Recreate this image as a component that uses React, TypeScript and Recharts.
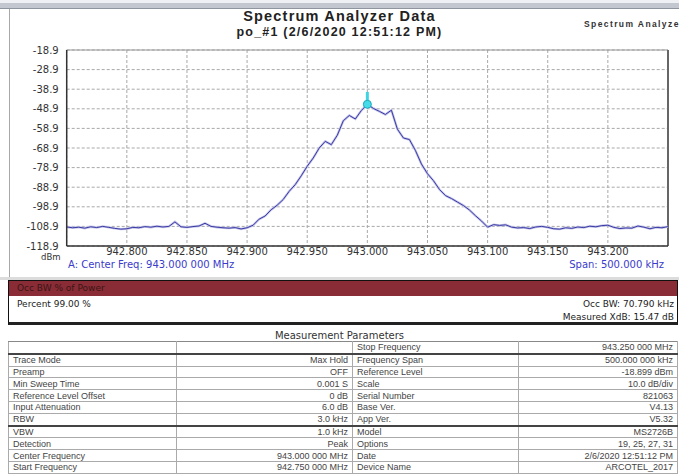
import { LineChart, Line, XAxis, YAxis, CartesianGrid, ReferenceLine, ReferenceDot } from 'recharts';

// sweep: 942.750 MHz .. 943.250 MHz, one point every 5 kHz
const sweepStart = 942.75;
const sweepStep = 0.005;
const traceDbm = [
  -109.2, -109.6, -109.3, -109.8, -109.1, -109.5, -108.9, -109.4, -109.9, -110.3,
  -110.1, -109.4, -109.6, -109.0, -109.3, -108.8, -109.2, -108.9, -106.6, -109.1,
  -109.4, -109.0, -108.7, -107.3, -108.9, -109.3, -109.6, -109.8, -109.5, -110.2,
  -109.6, -108.3, -105.2, -103.6, -100.4, -98.1, -95.2, -91.0, -87.6, -83.1,
  -78.2, -74.0, -68.9, -65.5, -67.2, -62.4, -55.0, -52.3, -54.1, -49.8,
  -46.6, -48.7, -50.2, -51.8, -49.6, -59.3, -63.8, -64.6, -70.2, -77.1,
  -82.0, -85.6, -90.1, -93.2, -94.7, -96.5, -98.3, -100.6, -103.5, -106.2,
  -109.3, -108.0, -108.4, -108.1, -109.3, -109.7, -109.5, -110.0, -109.2, -108.9,
  -109.4, -110.1, -110.3, -109.6, -109.9, -109.2, -109.5, -108.8, -109.1, -108.5,
  -108.3, -109.4, -110.0, -109.7, -109.8, -108.7, -109.3, -110.1, -109.4, -109.6,
  -109.0,
];

const yTicks = [-18.9, -28.9, -38.9, -48.9, -58.9, -68.9, -78.9, -88.9, -98.9, -108.9, -118.9];
const xTicks = [942.75, 942.8, 942.85, 942.9, 942.95, 943.0, 943.05, 943.1, 943.15, 943.2, 943.25];
const xLabels = ['', '942.800', '942.850', '942.900', '942.950', '943.000', '943.050', '943.100', '943.150', '943.200', ''];

const markerFreq = 943.0;
const markerDbm = -46.6;

const leftParams = [
  ['', ''],
  ['Trace Mode', 'Max Hold'],
  ['Preamp', 'OFF'],
  ['Min Sweep Time', '0.001 S'],
  ['Reference Level Offset', '0 dB'],
  ['Input Attenuation', '6.0 dB'],
  ['RBW', '3.0 kHz'],
  ['VBW', '1.0 kHz'],
  ['Detection', 'Peak'],
  ['Center Frequency', '943.000 000 MHz'],
  ['Start Frequency', '942.750 000 MHz'],
];
const rightParams = [
  ['Stop Frequency', '943.250 000 MHz'],
  ['Frequency Span', '500.000 000 kHz'],
  ['Reference Level', '-18.899 dBm'],
  ['Scale', '10.0 dB/div'],
  ['Serial Number', '821063'],
  ['Base Ver.', 'V4.13'],
  ['App Ver.', 'V5.32'],
  ['Model', 'MS2726B'],
  ['Options', '19, 25, 27, 31'],
  ['Date', '2/6/2020 12:51:12 PM'],
  ['Device Name', 'ARCOTEL_2017'],
];

const data = traceDbm.map((dbm, i) => ({ freq: sweepStart + i * sweepStep, dbm }));

const tickFont = { fontSize: 10, fill: '#333', fontFamily: 'DejaVu Sans' };
const abs = (s: any) => ({ position: 'absolute' as const, ...s });

export default function App() {
  const cell = { padding: '0 4px', height: 10.8, lineHeight: '10px', borderBottom: '1px solid #aaa', borderRight: '1px solid #aaa', whiteSpace: 'nowrap' as const };
  return (
    <div style={abs({ left: 0, top: 0, width: 679, height: 474, overflow: 'hidden', background: '#fff', fontFamily: '"Liberation Sans", Arial, sans-serif' })}>
      <div style={abs({ left: 0, top: 0, width: 679, height: 3, background: '#eef0f3' })} />
      <div style={abs({ left: 0, top: 3, width: 679, height: 5, background: '#c3c8d0', borderBottom: '1px solid #8f959e' })} />
      <div style={abs({ left: 9, top: 9, width: 1, height: 268, background: '#a8a8a8' })} />
      <div style={abs({ left: 0, top: 277, width: 679, height: 3, background: '#dcdcdc' })} />

      <div style={abs({ left: 0, top: 0 })}>
        <LineChart width={679} height={277} data={data} margin={{ top: 50, right: 11, bottom: 1, left: 10 }}>
          <CartesianGrid stroke="#a8a8a8" strokeDasharray="3 2" />
          <XAxis
            dataKey="freq"
            type="number"
            domain={[942.75, 943.25]}
            ticks={xTicks}
            tickFormatter={(_v: number, i: number) => xLabels[i]}
            interval={0}
            height={30}
            tickLine={false}
            tickSize={2}
            tickMargin={0}
            axisLine={{ stroke: '#333', strokeWidth: 1.5 }}
            tick={tickFont}
          />
          <YAxis
            type="number"
            domain={[-118.9, -18.9]}
            ticks={yTicks}
            interval={0}
            width={56.7}
            tickLine={false}
            tickSize={6}
            tickMargin={2}
            axisLine={{ stroke: '#333', strokeWidth: 1.5 }}
            tick={tickFont}
          />
          <ReferenceLine y={-18.9} stroke="#999" />
          <ReferenceLine x={943.25} stroke="#666" strokeWidth={2} />
          <Line dataKey="dbm" type="linear" stroke="#c4c4e8" strokeWidth={2.4} dot={false} isAnimationActive={false} />
          <Line dataKey="dbm" type="linear" stroke="#3a3aa6" strokeWidth={1} dot={false} isAnimationActive={false} />
          <ReferenceLine segment={[{ x: markerFreq, y: -40.3 }, { x: markerFreq, y: -45 }]} stroke="#3fd4e4" strokeWidth={3} />
          <ReferenceDot x={markerFreq} y={markerDbm} r={4} fill="#46dbe9" stroke="#1fa9ba" />
        </LineChart>
      </div>

      <div style={abs({ left: 0, top: 8, width: 679, textAlign: 'center', fontSize: 14.5, letterSpacing: 1.2, fontWeight: 'bold', color: '#222' })}>Spectrum Analyzer Data</div>
      <div style={abs({ left: 0, top: 25, width: 679, textAlign: 'center', fontSize: 12.5, letterSpacing: 1.2, fontWeight: 'bold', color: '#222' })}>po_#1 (2/6/2020 12:51:12 PM)</div>
      <div style={abs({ left: 584, top: 19, width: 95, overflow: 'hidden', whiteSpace: 'nowrap', fontSize: 8.5, letterSpacing: 1.4, fontWeight: 'bold', color: '#333' })}>Spectrum Analyzer</div>
      <div style={abs({ left: 41, top: 252, fontSize: 8.5, lineHeight: '10px', color: '#333', fontFamily: 'DejaVu Sans' })}>dBm</div>
      <div style={abs({ left: 68, top: 259, fontSize: 10, color: '#3b3bcc', fontFamily: 'DejaVu Sans' })}>A: Center Freq: 943.000 000 MHz</div>
      <div style={abs({ right: 15, top: 259, fontSize: 10, color: '#3b3bcc', fontFamily: 'DejaVu Sans' })}>Span: 500.000 kHz</div>

      <div style={abs({ left: 8, top: 280, width: 668, height: 41, border: '1.5px solid #111', borderBottom: '3px solid #222', fontFamily: 'DejaVu Sans', fontSize: 9, color: '#222' })}>
        <div style={{ height: 15, background: '#8a2c35', color: '#3a1515', lineHeight: '15px', paddingLeft: 8 }}>Occ BW % of Power</div>
        <div style={abs({ left: 8, top: 18 })}>Percent 99.00 %</div>
        <div style={abs({ right: 3, top: 18 })}>Occ BW: 70.790 kHz</div>
        <div style={abs({ right: 3, top: 31 })}>Measured XdB: 15.47 dB</div>
      </div>

      <div style={abs({ left: 0, top: 330, width: 679, textAlign: 'center', fontSize: 10, color: '#333', fontFamily: 'DejaVu Sans' })}>Measurement Parameters</div>
      <table style={abs({ left: 8, top: 341, width: 670, borderCollapse: 'collapse', fontSize: 9, color: '#444', borderTop: '1px solid #888', borderLeft: '1px solid #aaa' })}>
        <tbody>
          {rightParams.map((r, i) => {
            const thick = i === 0 || i === 6 ? { borderBottom: '2px solid #444' } : {};
            return (
              <tr key={i}>
                <td style={{ ...cell, ...thick, width: 159 }}>{leftParams[i][0]}</td>
                <td style={{ ...cell, ...thick, width: 167, textAlign: 'right' }}>{leftParams[i][1]}</td>
                <td style={{ ...cell, ...thick, width: 157 }}>{r[0]}</td>
                <td style={{ ...cell, ...thick, textAlign: 'right' }}>{r[1]}</td>
              </tr>
            );
          })}
        </tbody>
      </table>
    </div>
  );
}
